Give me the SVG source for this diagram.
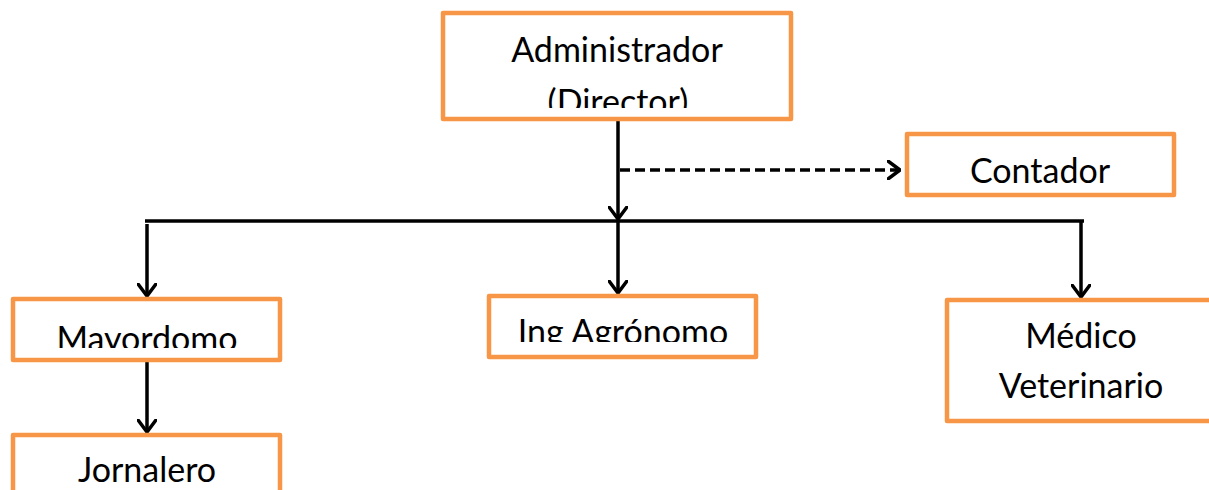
<svg xmlns="http://www.w3.org/2000/svg" width="1209" height="490" viewBox="0 0 1209 490">
  <style>
    .box { fill: #ffffff; stroke: #F79646; stroke-width: 4.5; stroke-linejoin: round; }
    .lbl { font-family: Lato, "Open Sans", "Liberation Sans", sans-serif; font-size: 34px; fill: #000000; text-anchor: middle; }
    .ln { fill: none; stroke: #000000; stroke-width: 3.5; }
    .dash { fill: none; stroke: #000000; stroke-width: 3.5; stroke-dasharray: 10 5; }
  </style>
  <defs>
    <marker id="chev" viewBox="0 0 14 20" refX="13" refY="10" markerWidth="14" markerHeight="20" markerUnits="userSpaceOnUse" orient="auto">
      <path d="M1,1 L13,10 L1,19" fill="none" stroke="#000000" stroke-width="3.5" stroke-linecap="round" stroke-linejoin="miter"/>
    </marker>
    <clipPath id="cAdmin"><rect x="446" y="16" width="343" height="92"/></clipPath>
    <clipPath id="cMay"><rect x="16" y="302" width="261" height="46"/></clipPath>
    <clipPath id="cIng"><rect x="492" y="299" width="261" height="43"/></clipPath>
  </defs>

  <!-- connectors -->
  <g id="connectors">
    <line class="ln" x1="618" y1="120" x2="618" y2="219" marker-end="url(#chev)"/>
    <line class="dash" x1="620" y1="170" x2="900" y2="170" marker-end="url(#chev)"/>
    <line class="ln" x1="145" y1="221" x2="1084" y2="221"/>
    <line class="ln" x1="147" y1="224" x2="147" y2="296" marker-end="url(#chev)"/>
    <line class="ln" x1="618" y1="221" x2="618" y2="293" marker-end="url(#chev)"/>
    <line class="ln" x1="1081" y1="221" x2="1081" y2="297" marker-end="url(#chev)"/>
    <line class="ln" x1="147" y1="362" x2="147" y2="432" marker-end="url(#chev)"/>
  </g>

  <g id="administrador">
    <rect class="box" x="443" y="13" width="348" height="106"/>
    <g clip-path="url(#cAdmin)">
      <text class="lbl" x="617" y="62">Administrador</text>
      <text class="lbl" x="618" y="114">(Director)</text>
    </g>
  </g>

  <g id="contador">
    <rect class="box" x="907" y="134" width="267" height="61"/>
    <text class="lbl" x="1040" y="183">Contador</text>
  </g>

  <g id="mayordomo">
    <rect class="box" x="13" y="299" width="267" height="61"/>
    <g clip-path="url(#cMay)">
      <text class="lbl" x="147" y="351">Mayordomo</text>
    </g>
  </g>

  <g id="ing-agronomo">
    <rect class="box" x="489" y="296" width="267" height="61"/>
    <g clip-path="url(#cIng)">
      <text class="lbl" x="623" y="344">Ing Agrónomo</text>
    </g>
  </g>

  <g id="medico-veterinario">
    <rect class="box" x="947" y="300" width="270" height="121"/>
    <text class="lbl" x="1081" y="348">Médico</text>
    <text class="lbl" x="1081" y="398">Veterinario</text>
  </g>

  <g id="jornalero">
    <rect class="box" x="13" y="435" width="267" height="70"/>
    <text class="lbl" x="147" y="482">Jornalero</text>
  </g>
</svg>
